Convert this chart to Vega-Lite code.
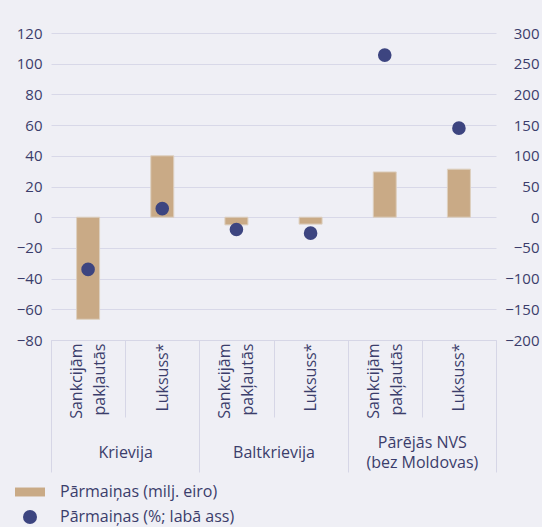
{
  "$schema": "https://vega.github.io/schema/vega-lite/v6.json",
  "width": 445,
  "height": 307,
  "autosize": "none",
  "padding": {"left": 51, "top": 33, "right": 46, "bottom": 187},
  "background": "#efeff5",
  "config": {
    "view": {"stroke": null},
    "font": "Open Sans",
    "axis": {
      "labelColor": "#3b3d6b",
      "labelFont": "Open Sans",
      "titleColor": "#3b3d6b",
      "domainColor": "#d6d6e6",
      "tickColor": "#d6d6e6",
      "gridColor": "#d8d8e8"
    },
    "legend": {
      "labelColor": "#3b3d6b",
      "labelFont": "Open Sans"
    }
  },
  "data": {
    "values": [
      {"grupa": "Krievija", "kat": "Krievija: Sankcijām pakļautās", "rādītājs": "Pārmaiņas (milj. eiro)", "vērtība": -66.5},
      {"grupa": "Krievija", "kat": "Krievija: Luksuss*", "rādītājs": "Pārmaiņas (milj. eiro)", "vērtība": 40},
      {"grupa": "Baltkrievija", "kat": "Baltkrievija: Sankcijām pakļautās", "rādītājs": "Pārmaiņas (milj. eiro)", "vērtība": -5},
      {"grupa": "Baltkrievija", "kat": "Baltkrievija: Luksuss*", "rādītājs": "Pārmaiņas (milj. eiro)", "vērtība": -4.5},
      {"grupa": "Pārējās NVS (bez Moldovas)", "kat": "Pārējās NVS: Sankcijām pakļautās", "rādītājs": "Pārmaiņas (milj. eiro)", "vērtība": 29.5},
      {"grupa": "Pārējās NVS (bez Moldovas)", "kat": "Pārējās NVS: Luksuss*", "rādītājs": "Pārmaiņas (milj. eiro)", "vērtība": 31.3},
      {"grupa": "Krievija", "kat": "Krievija: Sankcijām pakļautās", "rādītājs": "Pārmaiņas (%; labā ass)", "vērtība": -85},
      {"grupa": "Krievija", "kat": "Krievija: Luksuss*", "rādītājs": "Pārmaiņas (%; labā ass)", "vērtība": 14},
      {"grupa": "Baltkrievija", "kat": "Baltkrievija: Sankcijām pakļautās", "rādītājs": "Pārmaiņas (%; labā ass)", "vērtība": -20},
      {"grupa": "Baltkrievija", "kat": "Baltkrievija: Luksuss*", "rādītājs": "Pārmaiņas (%; labā ass)", "vērtība": -26},
      {"grupa": "Pārējās NVS (bez Moldovas)", "kat": "Pārējās NVS: Sankcijām pakļautās", "rādītājs": "Pārmaiņas (%; labā ass)", "vērtība": 264},
      {"grupa": "Pārējās NVS (bez Moldovas)", "kat": "Pārējās NVS: Luksuss*", "rādītājs": "Pārmaiņas (%; labā ass)", "vērtība": 145}
    ]
  },
  "layer": [
    {
      "layer": [
        {
          "transform": [{"filter": "datum['rādītājs'] == 'Pārmaiņas (milj. eiro)'"}],
          "mark": {"type": "bar", "width": {"band": 0.31}, "stroke": "#ddd0c0", "strokeWidth": 1},
          "encoding": {
            "x": {
              "field": "kat",
              "type": "nominal",
              "sort": null,
              "scale": {"paddingInner": 0, "paddingOuter": 0},
              "axis": {
                "orient": "bottom",
                "title": null,
                "labelAngle": -90,
                "labelAlign": "right",
                "labelBaseline": "middle",
                "labelFontSize": 16,
                "labelLineHeight": 23,
                "labelPadding": -74,
                "labelOffset": {
                  "condition": {"test": "isValid(datum.value) && indexof(datum.value, 'Sankcij') >= 0", "value": -11.5},
                  "value": 0
                },
                "labelExpr": "isValid(datum.value) ? split(split(datum.value, ': ')[1], ' ') : ''",
                "tickBand": "extent",
                "tickSize": 77,
                "domain": true,
                "grid": false
              }
            },
            "y": {
              "field": "vērtība",
              "type": "quantitative",
              "scale": {"domain": [-80, 120], "nice": false},
              "axis": {
                "orient": "left",
                "title": null,
                "values": [-80, -60, -40, -20, 0, 20, 40, 60, 80, 100, 120],
                "domain": false,
                "ticks": false,
                "labelFontSize": 15,
                "labelPadding": 9,
                "grid": true
              }
            },
            "color": {
              "field": "rādītājs",
              "type": "nominal",
              "scale": {
                "domain": ["Pārmaiņas (milj. eiro)", "Pārmaiņas (%; labā ass)"],
                "range": ["#c9aa86", "#3d4580"]
              }
            }
          }
        },
        {
          "transform": [{"filter": "datum['rādītājs'] == 'Pārmaiņas (%; labā ass)'"}],
          "mark": {"type": "point", "filled": true, "opacity": 1, "size": 185},
          "encoding": {
            "x": {"field": "kat", "type": "nominal", "sort": null},
            "y": {
              "field": "vērtība",
              "type": "quantitative",
              "scale": {"domain": [-200, 300], "nice": false},
              "axis": {
                "orient": "right",
                "title": null,
                "values": [-200, -150, -100, -50, 0, 50, 100, 150, 200, 250, 300],
                "domain": false,
                "ticks": false,
                "grid": false,
                "labelFontSize": 15,
                "labelAlign": "right",
                "labelPadding": 43
              }
            },
            "color": {
              "field": "rādītājs",
              "type": "nominal",
              "scale": {
                "domain": ["Pārmaiņas (milj. eiro)", "Pārmaiņas (%; labā ass)"],
                "range": ["#c9aa86", "#3d4580"]
              },
              "legend": {
                "title": null,
                "orient": "none",
                "legendX": -29,
                "legendY": 451,
                "padding": 0,
                "direction": "vertical",
                "symbolSize": 196,
                "symbolStrokeWidth": 0,
                "labelFontSize": 16,
                "labelOffset": 22,
                "labelLimit": 0,
                "rowPadding": 9
              }
            },
            "shape": {
              "field": "rādītājs",
              "type": "nominal",
              "scale": {
                "domain": ["Pārmaiņas (milj. eiro)", "Pārmaiņas (%; labā ass)"],
                "range": ["M-2.14,-0.64H2.14V0.64H-2.14Z", "circle"]
              },
              "legend": {
                "title": null,
                "orient": "none",
                "legendX": -29,
                "legendY": 451,
                "padding": 0,
                "direction": "vertical",
                "symbolSize": 196,
                "symbolStrokeWidth": 0,
                "labelFontSize": 16,
                "labelOffset": 22,
                "labelLimit": 0,
                "rowPadding": 9
              }
            }
          }
        }
      ],
      "resolve": {"scale": {"y": "independent"}}
    },
    {
      "mark": {"type": "text", "text": ""},
      "encoding": {
        "x": {
          "field": "grupa",
          "type": "nominal",
          "sort": null,
          "scale": {"paddingInner": 0, "paddingOuter": 0},
          "axis": {
            "orient": "bottom",
            "title": null,
            "labelAngle": 0,
            "labelAlign": "center",
            "labelBaseline": "middle",
            "labelFontSize": 16,
            "labelLineHeight": 20,
            "labelPadding": {
              "condition": {"test": "datum.value == 'Pārējās NVS (bez Moldovas)'", "value": -30},
              "value": -20
            },
            "labelExpr": "datum.value == 'Pārējās NVS (bez Moldovas)' ? ['Pārējās NVS', '(bez Moldovas)'] : datum.value",
            "tickBand": "extent",
            "tickSize": 132,
            "domain": false,
            "grid": false
          }
        }
      }
    }
  ],
  "resolve": {"scale": {"x": "independent", "y": "independent"}}
}
